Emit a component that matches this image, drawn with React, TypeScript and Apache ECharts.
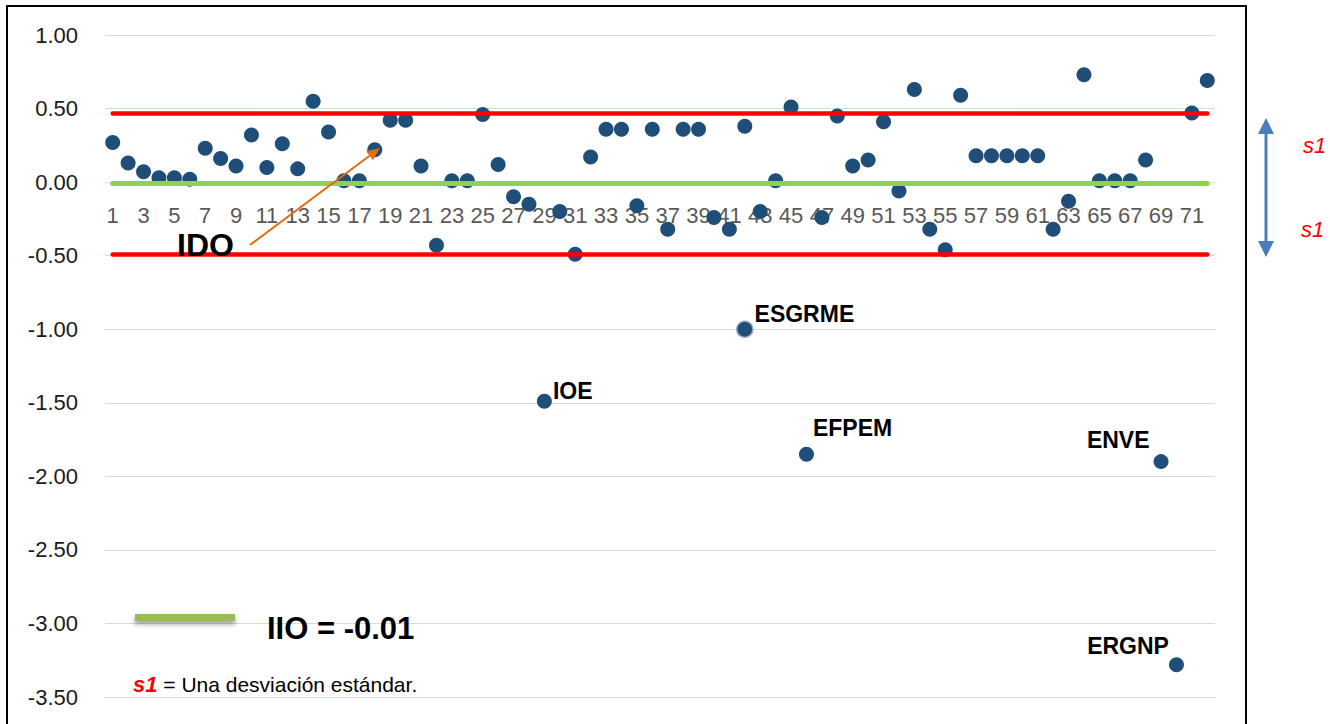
import React, { useEffect, useRef } from "react";
import * as echarts from "echarts";

// ---------- data ----------
const categories: string[] = Array.from({ length: 72 }, (_, i) => String(i + 1));

const values: number[] = [
  0.27, 0.13, 0.07, 0.03, 0.03, 0.02, 0.23, 0.16, 0.11, 0.32,
  0.10, 0.26, 0.09, 0.55, 0.34, 0.01, 0.01, 0.22, 0.42, 0.42,
  0.11, -0.43, 0.01, 0.01, 0.46, 0.12, -0.10, -0.15, -1.49, -0.20,
  -0.49, 0.17, 0.36, 0.36, -0.16, 0.36, -0.32, 0.36, 0.36, -0.24,
  -0.32, 0.38, -0.20, 0.01, 0.51, -1.85, -0.24, 0.45, 0.11, 0.15,
  0.41, -0.06, 0.63, -0.32, -0.46, 0.59, 0.18, 0.18, 0.18, 0.18,
  0.18, -0.32, -0.13, 0.73, 0.01, 0.01, 0.01, 0.15, -1.90, -3.28,
  0.47, 0.69,
];

const labelNames: string[] = ["IOE", "EFPEM", "ENVE", "ERGNP"];
const labelCats: string[] = ["29", "46", "69", "70"];

const extraName = "ESGRME";
const extraCat = "42";
const extraValue = -1.0;

const meanIIO = -0.01;
const upperLimit = 0.47;
const lowerLimit = -0.49;

const yTicks = { min: -3.5, max: 1.0, interval: 0.5 };

// ---------- styles ----------
const FONT = "'Liberation Sans', Arial, sans-serif";
const DOT = "#1F4E79";
const GRID = { left: 105, right: 115, top: 35, bottom: 27 };
const labelLayout: Record<string, { position: string; offset: number[] }> = {
  IOE: { position: "right", offset: [-4, -10] },
  ESGRME: { position: "right", offset: [-4, -15] },
  EFPEM: { position: "right", offset: [-6, -26] },
  ENVE: { position: "left", offset: [1, -22] },
  ERGNP: { position: "left", offset: [5, -19] },
};

function labelFor(name: string) {
  const l = labelLayout[name];
  return {
    show: true,
    formatter: name,
    position: l.position,
    offset: l.offset,
    fontFamily: FONT,
    fontWeight: "bold",
    fontSize: 23,
    color: "#000",
  };
}

export default function App() {
  const ref = useRef<HTMLDivElement>(null);

  useEffect(() => {
    if (!ref.current) return;
    const chart = echarts.init(ref.current, null, { renderer: "svg" });

    const mainData = values.map((v, i) => {
      const k = labelCats.indexOf(categories[i]);
      if (k >= 0) return { value: v, label: labelFor(labelNames[k]) };
      return v;
    });

    // x axis sits on the zero line: shift it up from the bottom of the grid
    const plotH = 724 - GRID.top - GRID.bottom;
    const zeroOffset = -(plotH * (0 - yTicks.min)) / (yTicks.max - yTicks.min);

    // orange arrow geometry
    const tail = [250, 245];
    const tip = [380, 148];
    const dx = tip[0] - tail[0];
    const dy = tip[1] - tail[1];
    const len = Math.sqrt(dx * dx + dy * dy);
    const ux = dx / len;
    const uy = dy / len;
    const hl = 13;
    const hw = 5.5;
    const bx = tip[0] - ux * hl;
    const by = tip[1] - uy * hl;

    const refLine = (v: number, color: string, width: number) => ({
      symbol: "none",
      lineStyle: { color, width, type: "solid", cap: "round", opacity: 1 },
      label: { show: false },
      emphasis: { disabled: true },
      data: [[{ coord: [categories[0], v] }, { coord: [categories[categories.length - 1], v] }]],
    });

    const option: any = {
      animation: false,
      grid: { ...GRID, containLabel: false, outerBoundsMode: "none" },
      xAxis: {
        type: "category",
        data: categories,
        boundaryGap: true,
        offset: zeroOffset,
        axisLine: { show: false, onZero: false },
        axisTick: { show: false },
        axisLabel: {
          interval: 1,
          fontFamily: FONT,
          fontSize: 22,
          color: "#595959",
          margin: 22,
        },
        splitLine: { show: false },
      },
      yAxis: {
        type: "value",
        min: yTicks.min,
        max: yTicks.max,
        interval: yTicks.interval,
        axisLine: { show: false },
        axisTick: { show: false },
        axisLabel: {
          formatter: (v: number) => v.toFixed(2),
          fontFamily: FONT,
          fontSize: 22,
          color: "#1a1a1a",
          margin: 27,
        },
        splitLine: { lineStyle: { color: "#D9D9D9", width: 1 } },
      },
      series: [
        {
          type: "scatter",
          name: "lines-red-up",
          data: [],
          z: 1,
          markLine: refLine(upperLimit, "#FF0000", 4.5),
        },
        {
          type: "scatter",
          name: "lines-red-low",
          data: [],
          z: 1,
          markLine: refLine(lowerLimit, "#FF0000", 4.5),
        },
        {
          type: "scatter",
          name: "line-green",
          data: [],
          z: 1,
          markLine: refLine(meanIIO, "#92D050", 5),
        },
        {
          type: "scatter",
          name: "IDO",
          z: 3,
          symbol: "circle",
          symbolSize: 15,
          itemStyle: { color: DOT, opacity: 1 },
          emphasis: { disabled: true },
          data: mainData,
        },
        {
          type: "scatter",
          name: extraName,
          z: 3,
          symbol: "circle",
          symbolSize: 16,
          itemStyle: { color: DOT, opacity: 1, borderColor: "#8FA8C2", borderWidth: 1.5 },
          emphasis: { disabled: true },
          data: [{ value: [categories.indexOf(extraCat), extraValue], label: labelFor(extraName) }],
        },
      ],
      graphic: [
        {
          type: "rect",
          shape: { x: 7, y: 6, width: 1239, height: 740 },
          style: { fill: "none", stroke: "#000", lineWidth: 2 },
          silent: true,
          z: 10,
        },
        // IDO label and orange arrow
        {
          type: "text",
          x: 177,
          y: 245,
          style: {
            text: "IDO",
            font: `bold 32px ${FONT}`,
            fill: "#000",
            align: "left",
            verticalAlign: "middle",
          },
          z: 10,
        },
        {
          type: "line",
          shape: { x1: tail[0], y1: tail[1], x2: bx, y2: by },
          style: { stroke: "#E46C0A", lineWidth: 2 },
          z: 10,
        },
        {
          type: "polygon",
          shape: {
            points: [
              [tip[0], tip[1]],
              [bx - uy * hw, by + ux * hw],
              [bx + uy * hw, by - ux * hw],
            ],
          },
          style: { fill: "#E46C0A" },
          z: 10,
        },
        // right double arrow with s1 labels
        {
          type: "line",
          shape: { x1: 1266, y1: 132, x2: 1266, y2: 243 },
          style: { stroke: "#4A7EBB", lineWidth: 3 },
          z: 10,
        },
        {
          type: "polygon",
          shape: { points: [[1266, 118], [1258, 134], [1274, 134]] },
          style: { fill: "#4A7EBB" },
          z: 10,
        },
        {
          type: "polygon",
          shape: { points: [[1266, 257], [1258, 241], [1274, 241]] },
          style: { fill: "#4A7EBB" },
          z: 10,
        },
        {
          type: "text",
          x: 1303,
          y: 145,
          style: {
            text: "s1",
            font: `italic 22px ${FONT}`,
            fill: "#FF0000",
            align: "left",
            verticalAlign: "middle",
          },
          z: 10,
        },
        {
          type: "text",
          x: 1301,
          y: 229,
          style: {
            text: "s1",
            font: `italic 22px ${FONT}`,
            fill: "#FF0000",
            align: "left",
            verticalAlign: "middle",
          },
          z: 10,
        },
        // legend block
        {
          type: "rect",
          shape: { x: 135, y: 614, width: 100, height: 7 },
          style: {
            fill: "#9BBB59",
            shadowBlur: 5,
            shadowOffsetY: 3,
            shadowColor: "rgba(0,0,0,0.4)",
          },
          z: 10,
        },
        {
          type: "text",
          x: 267,
          y: 628,
          style: {
            text: "IIO = -0.01",
            font: `bold 31px ${FONT}`,
            fill: "#000",
            align: "left",
            verticalAlign: "middle",
          },
          z: 10,
        },
        {
          type: "text",
          x: 133,
          y: 684,
          style: {
            text: "{s|s1} = Una desviación estándar.",
            font: `21px ${FONT}`,
            fill: "#000",
            align: "left",
            verticalAlign: "middle",
            rich: {
              s: {
                fontFamily: FONT,
                fontSize: 22,
                fontStyle: "italic",
                fontWeight: "bold",
                fill: "#FF0000",
                color: "#FF0000",
              },
            },
          },
          z: 10,
        },
      ],
    };

    chart.setOption(option);
    return () => chart.dispose();
  }, []);

  return (
    <div
      ref={ref}
      style={{ position: "absolute", left: 0, top: 0, width: 1330, height: 724, background: "#fff" }}
    />
  );
}
